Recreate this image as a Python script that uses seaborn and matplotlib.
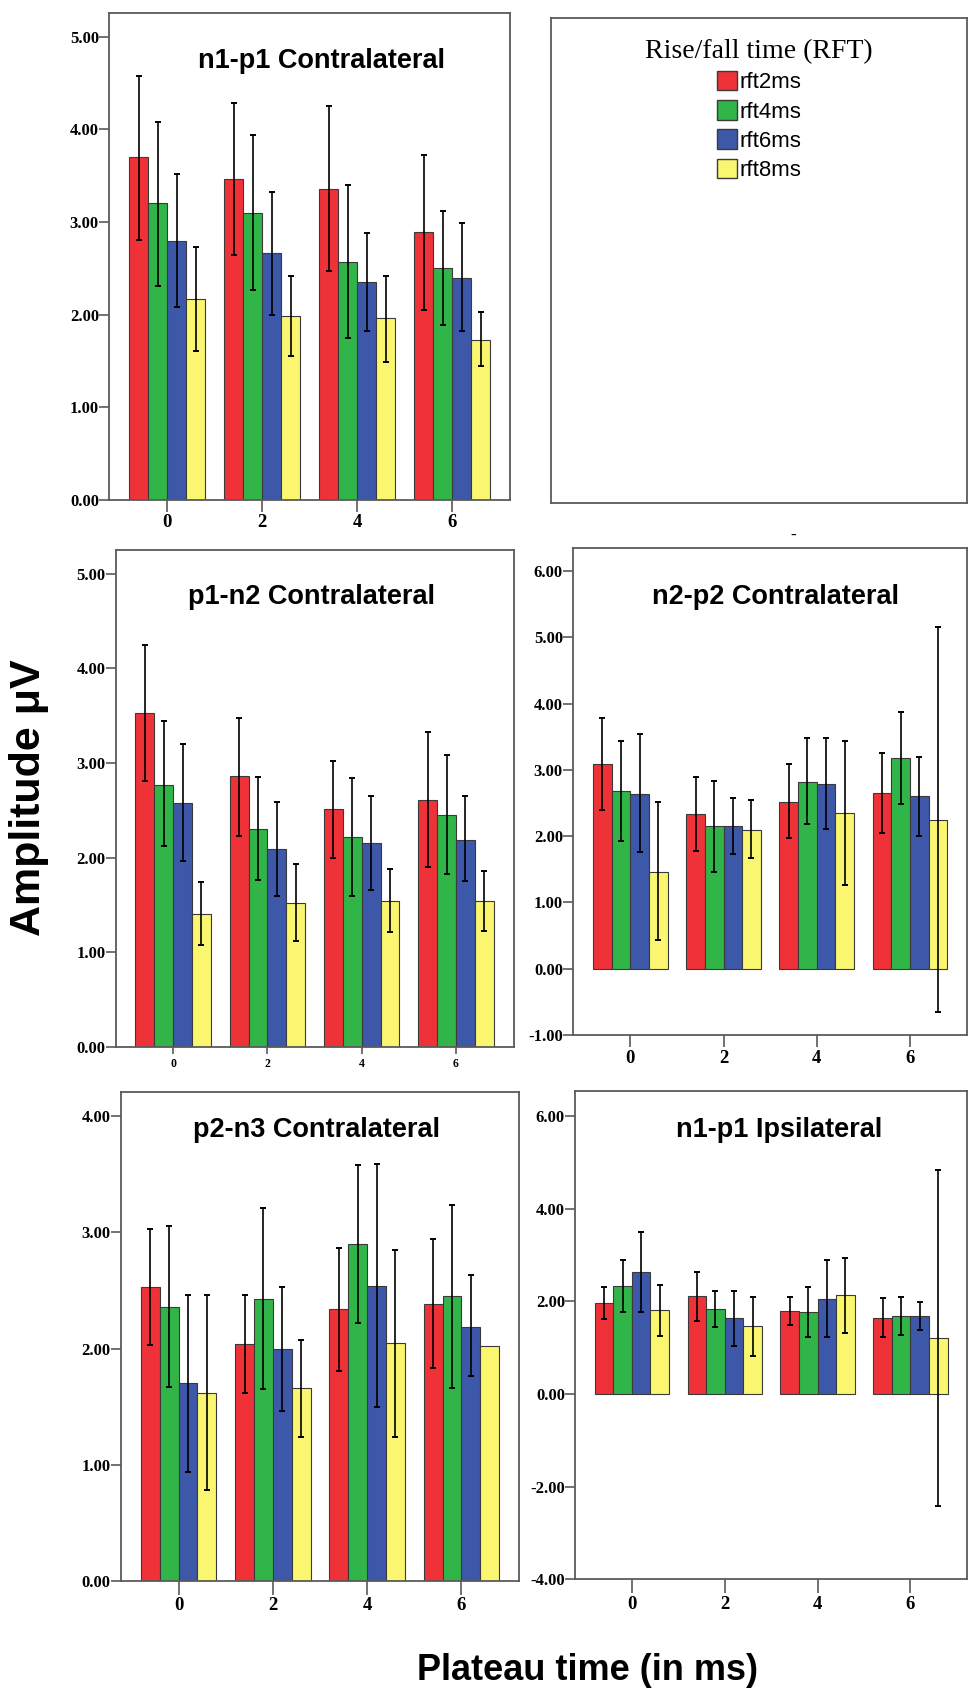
import numpy as np
import pandas as pd
import matplotlib
matplotlib.use("Agg")
import matplotlib.pyplot as plt
from matplotlib.patches import Patch
import seaborn as sns

plt.rcParams['font.family'] = ['Liberation Serif', 'DejaVu Serif']

# ---------------- data ----------------
plateau = ['0', '2', '4', '6']
rft = ['rft2ms', 'rft4ms', 'rft6ms', 'rft8ms']
colors = ['#EE3238', '#31B548', '#3D58A9', '#FAF66F']

# n1-p1 Contralateral
n1p1c_mean = [[3.70, 3.46, 3.36, 2.89], [3.20, 3.10, 2.57, 2.50],
              [2.80, 2.66, 2.35, 2.40], [2.17, 1.98, 1.96, 1.73]]
n1p1c_hi = [[4.58, 4.29, 4.25, 3.72], [4.08, 3.94, 3.40, 3.12],
            [3.52, 3.32, 2.88, 2.99], [2.73, 2.42, 2.42, 2.03]]
n1p1c_lo = [[2.81, 2.64, 2.47, 2.05], [2.31, 2.27, 1.75, 1.89],
            [2.08, 2.00, 1.82, 1.82], [1.61, 1.55, 1.49, 1.44]]

# p1-n2 Contralateral
p1n2c_mean = [[3.53, 2.86, 2.51, 2.61], [2.77, 2.30, 2.22, 2.45],
              [2.58, 2.09, 2.15, 2.19], [1.41, 1.52, 1.54, 1.54]]
p1n2c_hi = [[4.25, 3.48, 3.02, 3.33], [3.44, 2.85, 2.84, 3.08],
            [3.20, 2.59, 2.65, 2.65], [1.74, 1.93, 1.88, 1.86]]
p1n2c_lo = [[2.81, 2.23, 2.00, 1.90], [2.12, 1.76, 1.59, 1.83],
            [1.97, 1.60, 1.66, 1.75], [1.08, 1.12, 1.21, 1.23]]

# n2-p2 Contralateral
n2p2c_mean = [[3.09, 2.34, 2.52, 2.65], [2.69, 2.15, 2.82, 3.18],
              [2.64, 2.15, 2.79, 2.60], [1.46, 2.10, 2.35, 2.25]]
n2p2c_hi = [[3.79, 2.89, 3.09, 3.25], [3.44, 2.83, 3.48, 3.87],
            [3.54, 2.57, 3.48, 3.19], [2.52, 2.54, 3.43, 5.16]]
n2p2c_lo = [[2.39, 1.78, 1.97, 2.05], [1.93, 1.46, 2.18, 2.48],
            [1.76, 1.73, 2.11, 2.00], [0.43, 1.67, 1.27, -0.66]]

# p2-n3 Contralateral
p2n3c_mean = [[2.53, 2.04, 2.34, 2.38], [2.36, 2.43, 2.90, 2.45],
              [1.70, 2.00, 2.54, 2.19], [1.62, 1.66, 2.05, 2.02]]
p2n3c_hi = [[3.03, 2.46, 2.87, 2.94], [3.06, 3.21, 3.58, 3.24],
            [2.46, 2.53, 3.59, 2.63], [2.46, 2.07, 2.85, np.nan]]
p2n3c_lo = [[2.03, 1.62, 1.81, 1.83], [1.67, 1.65, 2.22, 1.66],
            [0.94, 1.46, 1.50, 1.76], [0.78, 1.24, 1.24, np.nan]]

# n1-p1 Ipsilateral
n1p1i_mean = [[1.97, 2.11, 1.79, 1.64], [2.33, 1.84, 1.78, 1.68],
              [2.63, 1.63, 2.06, 1.69], [1.81, 1.46, 2.13, 1.21]]
n1p1i_hi = [[2.31, 2.64, 2.09, 2.07], [2.89, 2.23, 2.31, 2.10],
            [3.49, 2.22, 2.89, 1.99], [2.35, 2.09, 2.94, 4.83]]
n1p1i_lo = [[1.61, 1.58, 1.48, 1.22], [1.78, 1.44, 1.24, 1.27],
            [1.78, 1.04, 1.23, 1.39], [1.25, 0.82, 1.31, -2.42]]

titles = ['n1-p1 Contralateral', 'p1-n2 Contralateral', 'n2-p2 Contralateral',
          'p2-n3 Contralateral', 'n1-p1 Ipsilateral']
yticks_list = [[0, 1, 2, 3, 4, 5], [0, 1, 2, 3, 4, 5], [-1, 0, 1, 2, 3, 4, 5, 6],
               [0, 1, 2, 3, 4], [-4, -2, 0, 2, 4, 6]]
legend_title = 'Rise/fall time (RFT)'
xlabel = 'Plateau time (in ms)'
ylabel = 'Amplitude \u03bcV'

# ---------------- layout (pixels) ----------------
W, H = 970, 1688
fig = plt.figure(figsize=(W / 100, H / 100), dpi=100)


def axpos(x0, x1, y0, y1):
    return [x0 / W, 1 - y1 / H, (x1 - x0) / W, (y1 - y0) / H]


panels = [
    dict(mean=n1p1c_mean, hi=n1p1c_hi, lo=n1p1c_lo, box=(109.3, 510, 12.8, 499.7),
         ylim=(0, 5.26), title_xy=(322, 67.6), xt=dict(length=8.5, labelsize=13.5, pad=2)),
    dict(mean=p1n2c_mean, hi=p1n2c_hi, lo=p1n2c_lo, box=(115.7, 513.5, 550, 1047),
         ylim=(0, 5.25), title_xy=(311, 604), xt=dict(length=5, labelsize=8.5, pad=3)),
    dict(mean=n2p2c_mean, hi=n2p2c_hi, lo=n2p2c_lo, box=(573.3, 967, 548, 1035),
         ylim=(-1, 6.35), title_xy=(776, 604), xt=dict(length=8.5, labelsize=13.5, pad=2)),
    dict(mean=p2n3c_mean, hi=p2n3c_hi, lo=p2n3c_lo, box=(121, 519, 1092, 1580.8),
         ylim=(0, 4.21), title_xy=(317, 1137), xt=dict(length=10, labelsize=13.5, pad=2)),
    dict(mean=n1p1i_mean, hi=n1p1i_hi, lo=n1p1i_lo, box=(575.3, 967, 1091, 1579.3),
         ylim=(-4, 6.54), title_xy=(779, 1137), xt=dict(length=10, labelsize=13.5, pad=2)),
]

spine_col = '#5a5a5a'

for p, title, yt in zip(panels, titles, yticks_list):
    ax = fig.add_axes(axpos(*p['box']))
    rows = []
    for i, r in enumerate(rft):
        for j, pl in enumerate(plateau):
            rows.append(dict(plateau=pl, rft=r, value=p['mean'][i][j]))
    df = pd.DataFrame(rows)
    sns.barplot(data=df, x='plateau', y='value', hue='rft', order=plateau,
                hue_order=rft, palette=colors, errorbar=None, width=0.8,
                saturation=1, edgecolor='#3a3a3a', linewidth=0.8, legend=False, ax=ax)
    bar_containers = list(ax.containers)
    for i, cont in enumerate(bar_containers):
        for j, bar in enumerate(cont):
            m = p['mean'][i][j]
            lo = p['lo'][i][j]
            hi = p['hi'][i][j]
            if np.isnan(lo) or np.isnan(hi):
                continue
            xc = bar.get_x() + bar.get_width() / 2
            ax.errorbar([xc], [m], yerr=[[m - lo], [hi - m]], fmt='none',
                        ecolor='black', elinewidth=1.2, capsize=2.2, capthick=1.4,
                        zorder=5)
    ax.set_xlim(-0.61, 3.61)
    ax.set_ylim(*p['ylim'])
    ax.set_yticks(yt)
    ax.set_yticklabels([f'{v:.2f}' for v in yt], fontweight='bold')
    for lbl in ax.get_xticklabels():
        lbl.set_fontweight('bold')
    ax.set_xlabel('')
    ax.set_ylabel('')
    for s in ax.spines.values():
        s.set_visible(True)
        s.set_color(spine_col)
        s.set_linewidth(1.3)
    ax.tick_params(axis='y', direction='out', length=7, width=1.2, color=spine_col,
                   pad=0.5, labelsize=12)
    ax.tick_params(axis='x', direction='out', width=1.2, color=spine_col, **p['xt'])
    ax.set_facecolor('white')
    tx, ty = p['title_xy']
    fig.text(tx / W, 1 - ty / H, title, ha='center', va='baseline',
             family='Liberation Sans', fontweight='bold', fontsize=19.5)

# legend panel
lax = fig.add_axes(axpos(551, 967, 18, 503))
lax.set_xticks([])
lax.set_yticks([])
for s in lax.spines.values():
    s.set_color(spine_col)
    s.set_linewidth(1.3)
handles = [Patch(facecolor=c, edgecolor='#3a3a3a', linewidth=1.0) for c in colors]
leg = lax.legend(handles, rft, title=legend_title, loc='upper center',
                 bbox_to_anchor=(0.5, 0.956), frameon=False, alignment='center',
                 prop=dict(family='Liberation Sans', size=16),
                 title_fontproperties=dict(family='Liberation Serif', size=20),
                 handlelength=0.9, handleheight=0.95, handletextpad=0.1,
                 labelspacing=0.31, borderpad=0, borderaxespad=0)

# stray dash mark
fig.text(793 / W, 1 - 536 / H, '-', ha='center', va='center', fontsize=12,
         fontweight='bold')

# axis labels
fig.text(29 / W, 1 - 798 / H, ylabel, rotation=90, ha='center', va='center',
         family='Liberation Sans', fontweight='bold', fontsize=31)
fig.text(588 / W, 1 - 1680 / H, xlabel, ha='center', va='baseline',
         family='Liberation Sans', fontweight='bold', fontsize=26)

fig.savefig('out.png', dpi=100, facecolor='white')
